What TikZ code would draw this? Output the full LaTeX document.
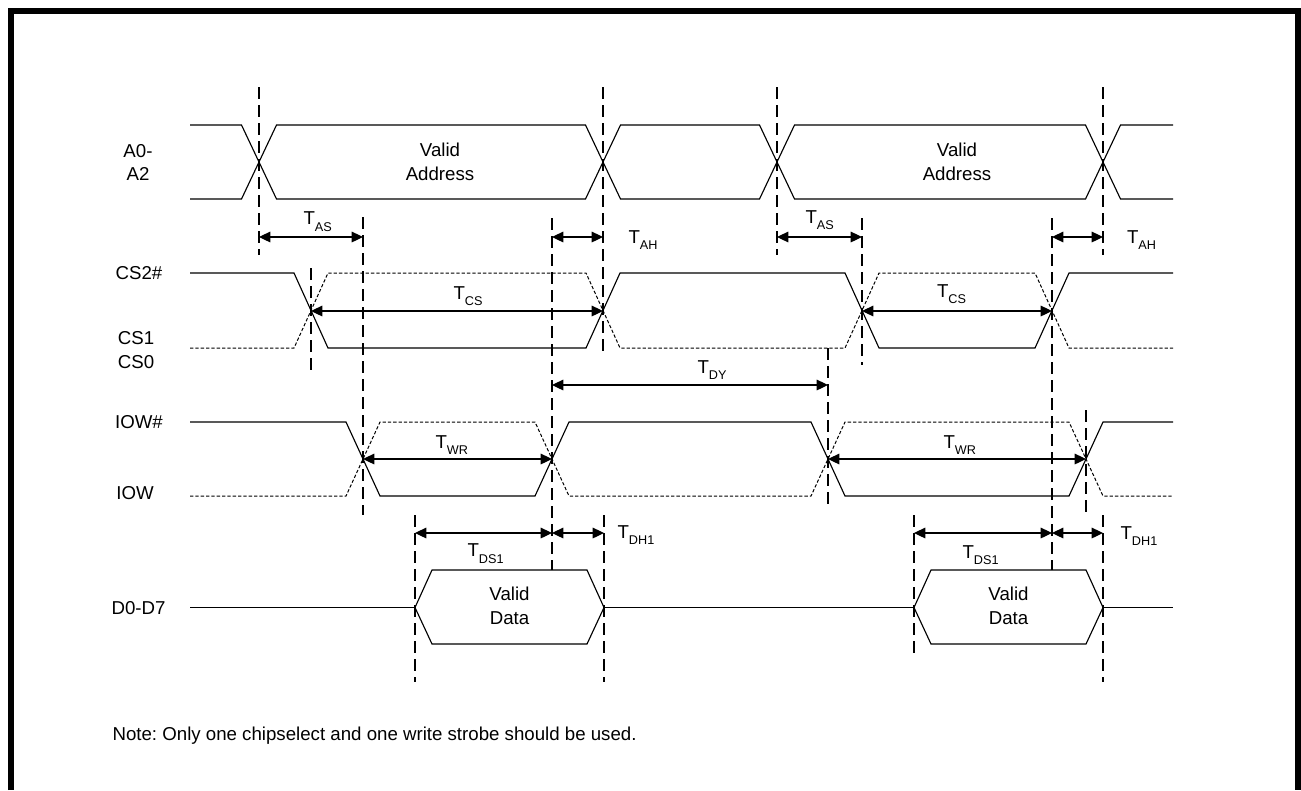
\documentclass[tikz,border=0pt]{standalone}
\usepackage{fontspec}
\setmainfont{Liberation Sans}
\usetikzlibrary{arrows.meta}
\frenchspacing

\newcommand{\tsub}[1]{T\raisebox{-5pt}{\fontsize{9.5}{9.5}\selectfont #1}}

\tikzset{every picture/.style={line width=0.85pt}}
\tikzset{
  sig/.style={line width=0.85pt},
  cmp/.style={line width=0.75pt, dash pattern=on 2.5pt off 1.5pt},
  guide/.style={line width=0.85pt, dash pattern=on 9pt off 4.5pt},
  dim/.style={line width=0.85pt, {Triangle[length=8.5pt,width=8pt]}-{Triangle[length=8.5pt,width=8pt]}},
  txt/.style={inner sep=0pt, font=\fontsize{14}{18.4}\selectfont},
}

\begin{document}
\begin{tikzpicture}[x=0.75pt,y=0.75pt,yscale=-1,xscale=1]
        \path[use as bounding box] (0,0) rectangle (1301,790);

        %Frame
        \draw[line width=4.5pt] (11,790) -- (11,11) -- (1298,11) -- (1298,790) ;

        %Bus: A0-A2
        \draw[sig] (190,125) -- (241.5,125) -- (276.5,199) -- (585.5,199) -- (620.5,125) -- (759.5,125) -- (794.5,199) -- (1085.5,199) -- (1120.5,125) -- (1173,125) ;
        \draw[sig] (190,199) -- (241.5,199) -- (276.5,125) -- (585.5,125) -- (620.5,199) -- (759.5,199) -- (794.5,125) -- (1085.5,125) -- (1120.5,199) -- (1173,199) ;

        %Signal: CS2# (solid) and CS1/CS0 (dashed)
        \draw[sig] (190,273) -- (294,273) -- (328,348) -- (586,348) -- (620,273) -- (845,273) -- (879,348) -- (1035,348) -- (1069,273) -- (1173,273) ;
        \draw[cmp] (190,348) -- (294,348) -- (328,273) -- (586,273) -- (620,348) -- (845,348) -- (879,273) -- (1035,273) -- (1069,348) -- (1173,348) ;

        %Signal: IOW# (solid) and IOW (dashed)
        \draw[sig] (190,422) -- (346,422) -- (380,496) -- (535,496) -- (569,422) -- (811,422) -- (845,496) -- (1069,496) -- (1103,422) -- (1173,422) ;
        \draw[cmp] (190,496) -- (346,496) -- (380,422) -- (535,422) -- (569,496) -- (811,496) -- (845,422) -- (1069,422) -- (1103,496) -- (1173,496) ;

        %Bus: D0-D7
        \draw[sig] (190,607.5) -- (415,607.5) ;
        \draw[sig] (415,607.5) -- (432,570) -- (587,570) -- (604,607.5) -- (587,644) -- (432,644) -- cycle ;
        \draw[sig] (604,607.5) -- (914,607.5) ;
        \draw[sig] (914,607.5) -- (931,570) -- (1086,570) -- (1103,607.5) -- (1086,644) -- (931,644) -- cycle ;
        \draw[sig] (1103,607.5) -- (1173,607.5) ;

        %Guide lines
        \draw[guide] (259,87) -- (259,255) ;
        \draw[guide] (603,87) -- (603,357) ;
        \draw[guide] (777,87) -- (777,255) ;
        \draw[guide] (1103,87) -- (1103,255) ;
        \draw[guide] (363,217) -- (363,515) ;
        \draw[guide] (552,218) -- (552,570) ;
        \draw[guide] (862,218) -- (862,365) ;
        \draw[guide] (1052,218) -- (1052,570) ;
        \draw[guide] (311,268) -- (311,372) ;
        \draw[guide] (828,348) -- (828,506) ;
        \draw[guide] (1086,410) -- (1086,514) ;
        \draw[guide] (415,515) -- (415,682) ;
        \draw[guide] (604,515) -- (604,682) ;
        \draw[guide] (914,515) -- (914,658) ;
        \draw[guide] (1103,515) -- (1103,682) ;

        %Timing arrows
        \draw[dim] (259,237) -- (363,237) ;
        \draw[dim] (552,237) -- (603,237) ;
        \draw[dim] (777,237) -- (862,237) ;
        \draw[dim] (1052,237) -- (1103,237) ;
        \draw[dim] (311,311) -- (603,311) ;
        \draw[dim] (862,311) -- (1052,311) ;
        \draw[dim] (552,385) -- (828,385) ;
        \draw[dim] (363,459) -- (552,459) ;
        \draw[dim] (828,459) -- (1086,459) ;
        \draw[dim] (415,533) -- (552,533) ;
        \draw[dim] (552,533) -- (604,533) ;
        \draw[dim] (914,533) -- (1052,533) ;
        \draw[dim] (1052,533) -- (1103,533) ;

        % Text Node
        \draw (138,157) node (txtA0) [anchor=base][txt] {A0-};
        % Text Node
        \draw (138,180.5) node (txtA2) [anchor=base][txt] {A2};
        % Text Node
        \draw (139,279) node (txtCStwo) [anchor=base][txt] {CS2\#};
        % Text Node
        \draw (136,344) node (txtCSone) [anchor=base][txt] {CS1};
        % Text Node
        \draw (136,368) node (txtCSzero) [anchor=base][txt] {CS0};
        % Text Node
        \draw (139,428) node (txtIOWn) [anchor=base][txt] {IOW\#};
        % Text Node
        \draw (135,499) node (txtIOW) [anchor=base][txt] {IOW};
        % Text Node
        \draw (138.5,614) node (txtD) [anchor=base][txt] {D0-D7};
        % Text Node
        \draw (440,162) node (txtAddrA) [txt][align=center] {Valid\\Address};
        % Text Node
        \draw (957,162) node (txtAddrB) [txt][align=center] {Valid\\Address};
        % Text Node
        \draw (509.5,606) node (txtDataA) [txt][align=center] {Valid\\Data};
        % Text Node
        \draw (1008.5,606) node (txtDataB) [txt][align=center] {Valid\\Data};
        % Text Node
        \draw (303,224.5) node (tAS1) [anchor=base west][txt] {\tsub{AS}};
        % Text Node
        \draw (628,243) node (tAH1) [anchor=base west][txt] {\tsub{AH}};
        % Text Node
        \draw (805,223) node (tAS2) [anchor=base west][txt] {\tsub{AS}};
        % Text Node
        \draw (1126.5,243) node (tAH2) [anchor=base west][txt] {\tsub{AH}};
        % Text Node
        \draw (453,299) node (tCS1) [anchor=base west][txt] {\tsub{CS}};
        % Text Node
        \draw (936.5,297) node (tCS2) [anchor=base west][txt] {\tsub{CS}};
        % Text Node
        \draw (697,373) node (tDY) [anchor=base west][txt] {\tsub{DY}};
        % Text Node
        \draw (435,448) node (tWR1) [anchor=base west][txt] {\tsub{WR}};
        % Text Node
        \draw (943,448) node (tWR2) [anchor=base west][txt] {\tsub{WR}};
        % Text Node
        \draw (467,556.5) node (tDS1) [anchor=base west][txt] {\tsub{DS1}};
        % Text Node
        \draw (617,538) node (tDH1) [anchor=base west][txt] {\tsub{DH1}};
        % Text Node
        \draw (962,558) node (tDS2) [anchor=base west][txt] {\tsub{DS1}};
        % Text Node
        \draw (1120,539) node (tDH2) [anchor=base west][txt] {\tsub{DH1}};
        % Text Node
        \draw (112,740) node (txtNote) [anchor=base west][txt] {Note: Only one chipselect and one write strobe should be used.};

\end{tikzpicture}
\end{document}
